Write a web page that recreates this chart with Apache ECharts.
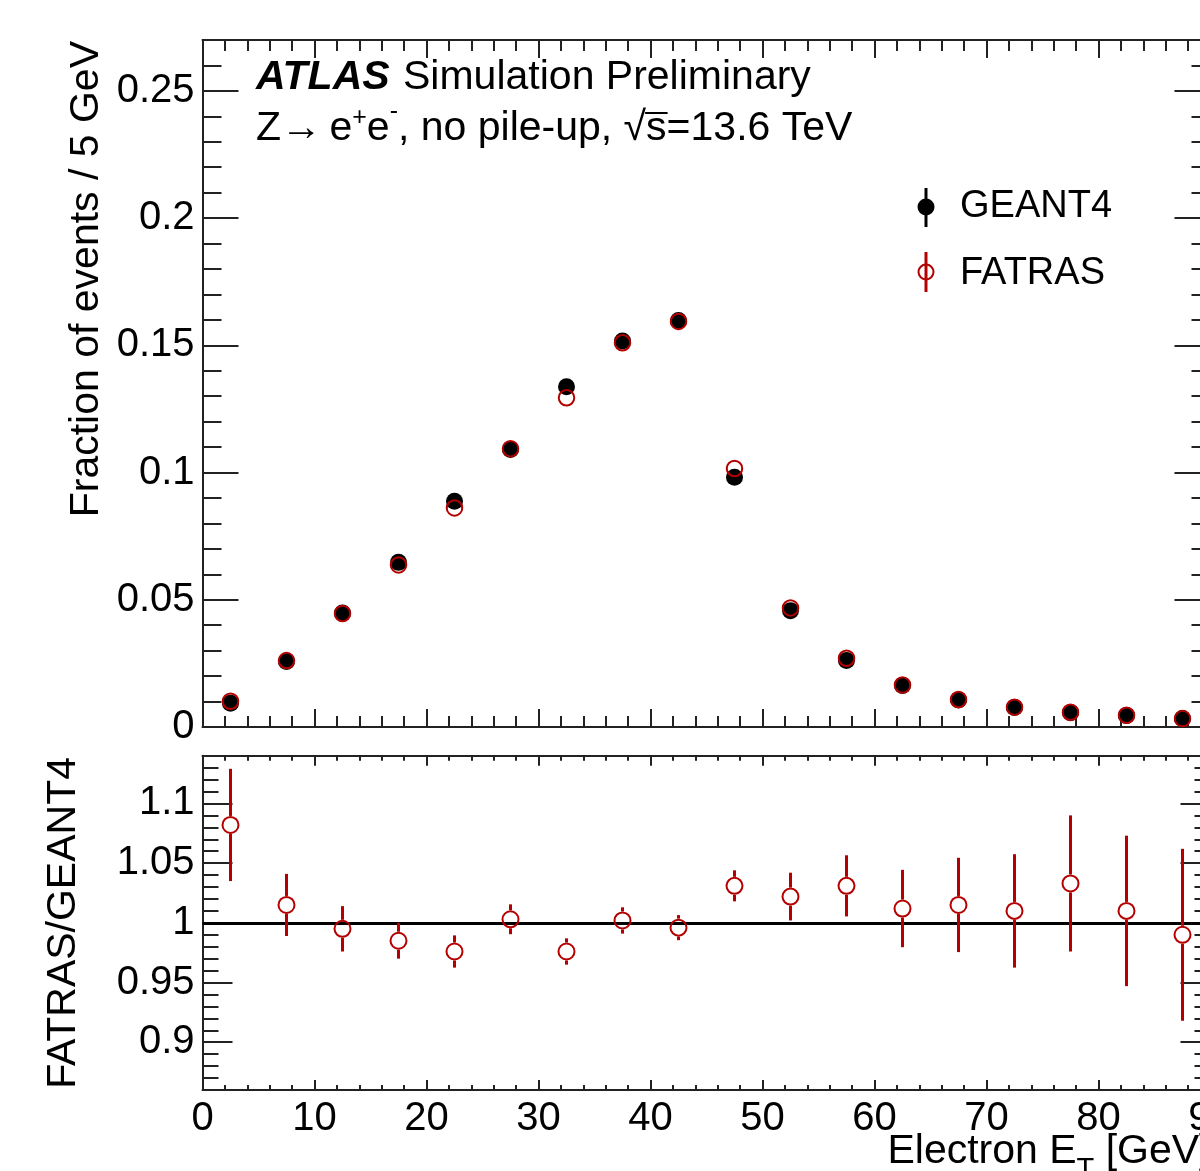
<!DOCTYPE html>
<html>
<head>
<meta charset="utf-8">
<title>Electron ET</title>
<script src="https://cdn.jsdelivr.net/npm/echarts/dist/echarts.min.js"></script>
<style>
  html, body { margin: 0; padding: 0; background: #fff; }
  #chart { width: 1200px; height: 1171px; }
</style>
</head>
<body>
<div id="chart"></div>
<script>
// ---------------- data ----------------
const binCenters = [2.5, 7.5, 12.5, 17.5, 22.5, 27.5, 32.5, 37.5, 42.5, 47.5, 52.5, 57.5, 62.5, 67.5, 72.5, 77.5, 82.5, 87.5];
const geant4 = [0.0093, 0.0257, 0.0448, 0.0647, 0.0887, 0.1091, 0.1337, 0.1517, 0.1598, 0.0982, 0.0457, 0.0261, 0.0163, 0.0106, 0.0077, 0.0056, 0.0045, 0.0033];
const fatras = [0.0101, 0.0261, 0.0446, 0.0637, 0.0861, 0.1094, 0.1294, 0.1510, 0.1594, 0.1016, 0.0468, 0.0270, 0.0165, 0.0108, 0.0078, 0.0058, 0.0046, 0.0033];
const ratio = [1.082, 1.015, 0.995, 0.985, 0.976, 1.003, 0.976, 1.002, 0.996, 1.031, 1.022, 1.031, 1.012, 1.015, 1.010, 1.033, 1.010, 0.990];
const ratioErr = [0.047, 0.026, 0.019, 0.015, 0.0135, 0.0125, 0.011, 0.011, 0.0105, 0.013, 0.020, 0.0256, 0.0324, 0.0395, 0.0475, 0.057, 0.063, 0.072];

const xMin = 0, xMax = 90, xStep = 10;
const mainYRange = [0, 0.27];
const mainYTicks = [0, 0.05, 0.1, 0.15, 0.2, 0.25];
const mainYMinor = [0.01, 0.02, 0.03, 0.04, 0.06, 0.07, 0.08, 0.09, 0.11, 0.12, 0.13, 0.14, 0.16, 0.17, 0.18, 0.19, 0.21, 0.22, 0.23, 0.24, 0.26];
const ratioYRange = [0.86, 1.14];
const ratioYTicks = [0.9, 0.95, 1, 1.05, 1.1];
const ratioYMinor = [0.87, 0.88, 0.89, 0.91, 0.92, 0.93, 0.94, 0.96, 0.97, 0.98, 0.99, 1.01, 1.02, 1.03, 1.04, 1.06, 1.07, 1.08, 1.09, 1.11, 1.12, 1.13];

const seriesNames = ['GEANT4', 'FATRAS'];
const yTitleMain = 'Fraction of events / 5 GeV';
const yTitleRatio = 'FATRAS/GEANT4';

// ---------------- style ----------------
const FF = '"Liberation Sans", Arial, Helvetica, sans-serif';
const AX = '#222';
const RED = '#b40000';
const LBL = 40;

const G0 = { left: 202.5, top: 40, width: 1008, height: 687 };
const G1 = { left: 202.5, top: 755.7, width: 1008, height: 334.3 };

function xAx(grid, pos, majorLen, minorLen, showLabel) {
  return {
    type: 'value', gridIndex: grid, position: pos, min: xMin, max: xMax, interval: xStep,
    axisLine: { show: true, onZero: false, lineStyle: { color: AX, width: 2 } },
    axisTick: { show: true, inside: true, length: majorLen, lineStyle: { color: AX, width: 2 } },
    minorTick: { show: true, splitNumber: 5, length: minorLen, lineStyle: { color: AX, width: 2 } },
    splitLine: { show: false }, minorSplitLine: { show: false },
    axisLabel: { show: showLabel, fontSize: LBL, fontFamily: FF, color: '#000', margin: 9, hideOverlap: false }
  };
}
function yAx(grid, pos, range, ticks, len, showLabel, showLine) {
  return {
    type: 'value', gridIndex: grid, position: pos, min: range[0], max: range[1],
    axisLine: { show: showLine, onZero: false, lineStyle: { color: AX, width: 2 } },
    axisTick: { show: true, inside: true, length: len, customValues: ticks, lineStyle: { color: AX, width: 2 } },
    minorTick: { show: false },
    splitLine: { show: false },
    axisLabel: { show: showLabel, customValues: ticks, fontSize: LBL, fontFamily: FF, color: '#000', margin: 8 }
  };
}

// ---------------- text layout helpers ----------------
const mctx = document.createElement('canvas').getContext('2d');
function fontStr(it) { return `${it.style || 'normal'} ${it.weight || 'normal'} ${it.size}px ${FF}`; }
function midOffset(it) {
  mctx.font = fontStr(it);
  mctx.textBaseline = 'alphabetic';
  const m = mctx.measureText('Hg');
  if (m.fontBoundingBoxAscent !== undefined) return (m.fontBoundingBoxAscent - m.fontBoundingBoxDescent) / 2;
  return 0.3465 * it.size;
}
function width(it) { mctx.font = fontStr(it); return mctx.measureText(it.t).width; }
function layoutRuns(x, baseline, items) {
  let cx = x; const els = []; const pos = [];
  items.forEach(it => {
    const w = width(it);
    els.push({
      type: 'text', x: cx, y: baseline + (it.dy || 0) - midOffset(it), silent: true,
      style: { text: it.t, fontSize: it.size, fontFamily: FF, fontWeight: it.weight || 'normal',
               fontStyle: it.style || 'normal', fill: '#000', align: 'left', verticalAlign: 'middle' }
    });
    pos.push([cx, w]);
    cx += w + (it.gap || 0);
  });
  return { els, pos, end: cx };
}
function totalWidth(items) { return items.reduce((s, it) => s + width(it) + (it.gap || 0), 0); }

const graphics = [];
// ATLAS label
const atlas = layoutRuns(256, 92, [
  { t: 'ATLAS', size: 41, weight: 'bold', style: 'italic', gap: 2 },
  { t: ' Simulation Preliminary', size: 41 }
]);
graphics.push(...atlas.els);
// second line
const line2 = layoutRuns(256, 143, [
  { t: 'Z', size: 41 },
  { t: '\u2192', size: 41, gap: -4 },
  { t: ' e', size: 41 },
  { t: '+', size: 25, dy: -16 },
  { t: 'e', size: 41 },
  { t: '-', size: 25, dy: -22 },
  { t: ', no pile-up, ', size: 41 },
  { t: '\u221A', size: 41 },
  { t: 's', size: 41 },
  { t: '=13.6 TeV', size: 41 }
]);
graphics.push(...line2.els);
const sPos = line2.pos[8];
graphics.push({ type: 'line', silent: true, shape: { x1: sPos[0] - 1, y1: 113, x2: sPos[0] + sPos[1] + 1, y2: 113 },
  style: { stroke: '#000', lineWidth: 2 } });

// x axis title (right aligned to frame end)
const xTitleItems = [
  { t: 'Electron E', size: 41 },
  { t: 'T', size: 29, dy: 14 },
  { t: ' [GeV]', size: 41 }
];
const xt = layoutRuns(G1.left + G1.width - totalWidth(xTitleItems), 1166, xTitleItems);
graphics.push(...xt.els);

// y titles (rotated)
graphics.push({ type: 'text', x: 87, y: 41, rotation: Math.PI / 2, silent: true,
  style: { text: yTitleMain, fontSize: 41, fontFamily: FF, fill: '#000', align: 'right', verticalAlign: 'middle' } });
graphics.push({ type: 'text', x: 63.5, y: 757, rotation: Math.PI / 2, silent: true,
  style: { text: yTitleRatio, fontSize: 41, fontFamily: FF, fill: '#000', align: 'right', verticalAlign: 'middle' } });

// legend
graphics.push({ type: 'line', silent: true, shape: { x1: 926, y1: 188, x2: 926, y2: 227 }, style: { stroke: '#000', lineWidth: 3 } });
graphics.push({ type: 'circle', silent: true, shape: { cx: 926, cy: 207, r: 8.5 }, style: { fill: '#000' } });
graphics.push({ type: 'line', silent: true, shape: { x1: 926, y1: 252, x2: 926, y2: 292 }, style: { stroke: RED, lineWidth: 3 } });
graphics.push({ type: 'circle', silent: true, shape: { cx: 926, cy: 272, r: 7.5 }, style: { fill: 'none', stroke: RED, lineWidth: 2 } });
graphics.push(...layoutRuns(960, 220, [{ t: seriesNames[0], size: 38 }]).els);
graphics.push(...layoutRuns(960, 287, [{ t: seriesNames[1], size: 38 }]).els);

// ---------------- chart ----------------
const chart = echarts.init(document.getElementById('chart'), null, { renderer: 'canvas' });
const option = {
  animation: false,
  backgroundColor: '#fff',
  grid: [
    Object.assign({ containLabel: false, outerBoundsMode: 'none' }, G0),
    Object.assign({ containLabel: false, outerBoundsMode: 'none' }, G1)
  ],
  xAxis: [
    xAx(0, 'bottom', 18, 11, false),
    xAx(0, 'top', 18, 11, false),
    xAx(1, 'bottom', 10, 5, true),
    xAx(1, 'top', 10, 5, false)
  ],
  yAxis: [
    yAx(0, 'left', mainYRange, mainYTicks, 36, true, true),
    yAx(0, 'left', mainYRange, mainYMinor, 19, false, false),
    yAx(0, 'right', mainYRange, mainYTicks, 36, false, true),
    yAx(0, 'right', mainYRange, mainYMinor, 19, false, false),
    yAx(1, 'left', ratioYRange, ratioYTicks, 30, true, true),
    yAx(1, 'left', ratioYRange, ratioYMinor, 16, false, false),
    yAx(1, 'right', ratioYRange, ratioYTicks, 30, false, true),
    yAx(1, 'right', ratioYRange, ratioYMinor, 16, false, false)
  ],
  series: [
    {
      name: seriesNames[0], type: 'scatter', xAxisIndex: 0, yAxisIndex: 0, z: 3,
      symbol: 'circle', symbolSize: 17, silent: true,
      itemStyle: { color: '#000', opacity: 1 },
      data: binCenters.map((x, i) => [x, geant4[i]])
    },
    {
      name: seriesNames[1], type: 'scatter', xAxisIndex: 0, yAxisIndex: 0, z: 4,
      symbol: 'circle', symbolSize: 15.5, silent: true,
      itemStyle: { color: 'rgba(0,0,0,0)', borderColor: RED, borderWidth: 2, opacity: 1 },
      data: binCenters.map((x, i) => [x, fatras[i]])
    },
    {
      name: 'ratioErr', type: 'custom', xAxisIndex: 2, yAxisIndex: 4, z: 3, silent: true,
      renderItem: function (params, api) {
        const x = api.value(0), y = api.value(1), e = api.value(2);
        const pc = api.coord([x, y]);
        const pt = api.coord([x, y + e]);
        const pb = api.coord([x, y - e]);
        const r = 9;
        const children = [];
        if (pc[1] - r > pt[1]) children.push({ type: 'line', shape: { x1: pc[0], y1: pt[1], x2: pc[0], y2: pc[1] - r }, style: { stroke: RED, lineWidth: 3 } });
        if (pb[1] > pc[1] + r) children.push({ type: 'line', shape: { x1: pc[0], y1: pc[1] + r, x2: pc[0], y2: pb[1] }, style: { stroke: RED, lineWidth: 3 } });
        return { type: 'group', children };
      },
      data: binCenters.map((x, i) => [x, ratio[i], ratioErr[i]])
    },
    {
      name: 'ratio', type: 'scatter', xAxisIndex: 2, yAxisIndex: 4, z: 4,
      symbol: 'circle', symbolSize: 16, silent: true,
      itemStyle: { color: 'rgba(0,0,0,0)', borderColor: RED, borderWidth: 2, opacity: 1 },
      data: binCenters.map((x, i) => [x, ratio[i]]),
      markLine: {
        silent: true, symbol: ['none', 'none'], z: 2,
        label: { show: false },
        lineStyle: { color: '#000', width: 3, type: 'solid', opacity: 1 },
        data: [{ yAxis: 1 }]
      }
    }
  ],
  graphic: { elements: graphics }
};
chart.setOption(option);
</script>
</body>
</html>
